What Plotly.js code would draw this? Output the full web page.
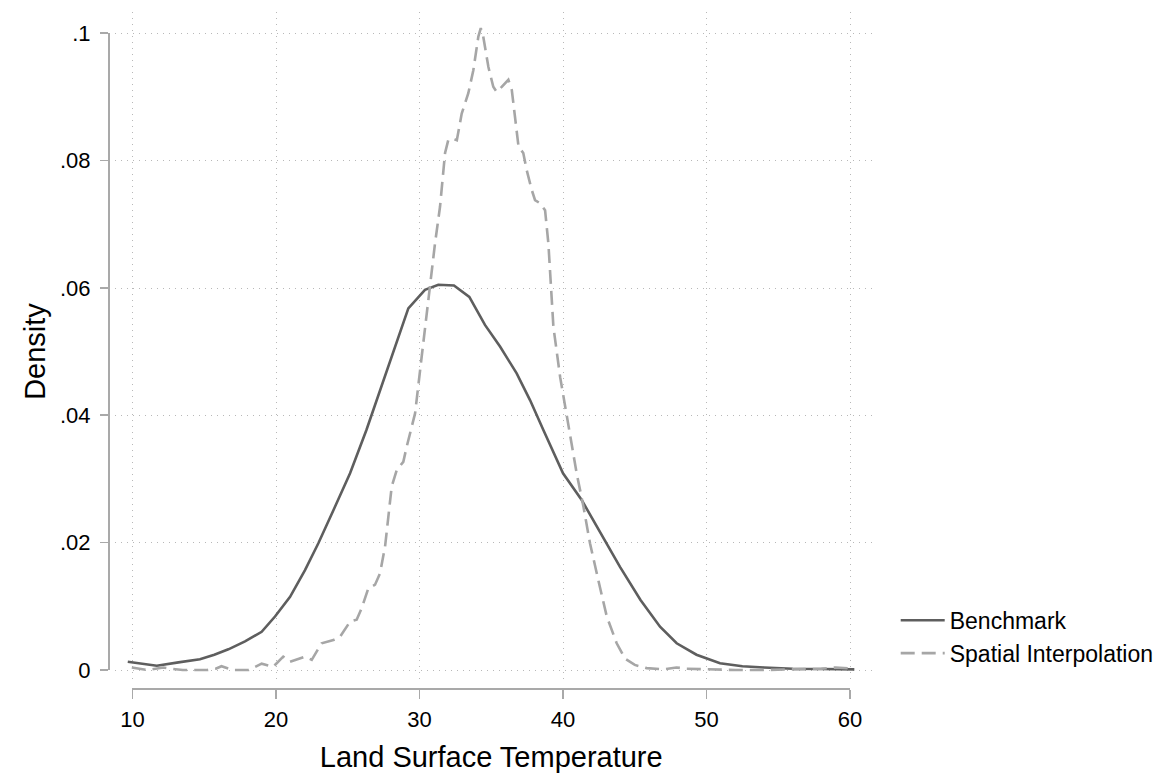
<!DOCTYPE html>
<html>
<head>
<meta charset="utf-8">
<script src="https://cdn.plot.ly/plotly-3.0.1.min.js"></script>
<style>html,body{margin:0;padding:0;background:#fff;}#chart{width:1167px;height:774px;}</style>
</head>
<body>
<div id="chart"></div>
<script>
// Benchmark kernel density
var benchX = [9.67, 11.69, 13.2, 14.7, 15.7, 16.68, 17.84, 19.0, 19.93, 20.98, 22.02, 22.95, 24.0, 25.16, 26.3, 27.25, 28.2, 29.22, 30.38, 31.31, 32.4, 33.47, 34.56, 35.61, 36.77, 37.7, 38.63, 40.0, 41.3, 42.8, 43.97, 45.4, 46.76, 47.92, 49.3, 50.94, 52.5, 54.0, 56.0, 58.0, 60.3];
var benchY = [0.0013, 0.00068, 0.0012, 0.00168, 0.0024, 0.00325, 0.0045, 0.006, 0.0084, 0.0115, 0.0157, 0.0199, 0.0251, 0.0309, 0.0377, 0.044, 0.0502, 0.0568, 0.0597, 0.0605, 0.0604, 0.0586, 0.0542, 0.0508, 0.0466, 0.0424, 0.0377, 0.0309, 0.0267, 0.0209, 0.0162, 0.011, 0.0068, 0.0042, 0.0024, 0.00105, 0.0006, 0.0004, 0.0002, 0.00015, 0.0001];

// Spatial Interpolation kernel density
var spatX = [9.95, 11.0, 11.6, 12.15, 12.7, 13.5, 15.2, 15.8, 16.2, 16.6, 17.0, 18.1, 18.6, 19.0, 19.8, 20.1, 20.5, 20.98, 21.44, 22.02, 22.49, 23.18, 24.0, 24.46, 25.16, 25.62, 25.97, 26.43, 26.9, 27.25, 27.6, 27.83, 28.06, 28.41, 28.87, 29.1, 29.69, 30.15, 30.73, 31.08, 31.43, 31.78, 32.0, 32.25, 32.6, 32.94, 33.4, 33.75, 34.1, 34.27, 34.44, 34.8, 35.14, 35.38, 35.73, 36.19, 36.43, 36.66, 36.9, 37.23, 37.47, 37.82, 38.05, 38.4, 38.75, 38.98, 39.33, 39.8, 40.14, 40.49, 40.95, 41.42, 41.88, 42.46, 43.05, 43.74, 44.32, 45.0, 45.83, 47.0, 47.9, 48.6, 50.0, 52.0, 54.0, 56.0, 58.0, 59.0, 60.3];
var spatY = [0.0004, 0.0, 0.0002, 0.0004, 0.0002, 0.0, 0.0, 0.0002, 0.0006, 0.0003, 0.0, 0.0, 0.0005, 0.001, 0.0005, 0.0012, 0.0021, 0.0013, 0.0016, 0.0021, 0.0016, 0.0042, 0.0047, 0.0052, 0.0076, 0.0079, 0.0097, 0.0128, 0.0134, 0.0152, 0.0194, 0.0241, 0.0288, 0.0314, 0.0327, 0.035, 0.0403, 0.0492, 0.0607, 0.067, 0.0728, 0.0812, 0.0832, 0.0835, 0.0832, 0.0874, 0.0906, 0.0942, 0.0995, 0.1008, 0.0995, 0.0947, 0.0916, 0.0908, 0.0916, 0.0927, 0.0911, 0.0864, 0.0822, 0.0812, 0.0785, 0.0754, 0.0738, 0.0733, 0.0722, 0.067, 0.0539, 0.046, 0.0414, 0.0372, 0.0309, 0.0257, 0.0199, 0.0141, 0.0084, 0.0042, 0.0018, 0.0008, 0.0003, 0.0001, 0.0004, 0.0002, 0.0001, 0.0, 0.0, 0.0001, 0.0002, 0.0004, 0.0002];

var seriesNames = ["Benchmark", "Spatial Interpolation"];
var xTickVals = [10, 20, 30, 40, 50, 60];
var xTickText = ["10", "20", "30", "40", "50", "60"];
var yTickVals = [0, 0.02, 0.04, 0.06, 0.08, 0.1];
var yTickText = ["0", ".02", ".04", ".06", ".08", ".1"];
var xTitle = "Land Surface Temperature";
var yTitle = "Density";

var FONT = "Liberation Sans, Arial, sans-serif";
var axisGrey = "#a9a9a9";
var gridGrey = "#b8b8b8";

var traces = [
  {x: benchX, y: benchY, name: seriesNames[0], type: "scatter", mode: "lines",
   line: {color: "#5e5e5e", width: 2.6}, xaxis: "x", yaxis: "y", hoverinfo: "skip"},
  {x: spatX, y: spatY, name: seriesNames[1], type: "scatter", mode: "lines",
   line: {color: "#a6a6a6", width: 2.6, dash: "14px,7px"}, xaxis: "x", yaxis: "y", hoverinfo: "skip"},
  {x: [null], y: [null], xaxis: "x2", yaxis: "y2", showlegend: false, hoverinfo: "skip", mode: "lines"}
];

var layout = {
  width: 1167, height: 774,
  margin: {l: 108, r: 292, t: 12, b: 86, pad: 0, autoexpand: false},
  paper_bgcolor: "#ffffff", plot_bgcolor: "rgba(0,0,0,0)",
  font: {family: FONT, color: "#000000", size: 22},
  showlegend: true,
  legend: {x: 1.027, xanchor: "left", y: 0.132, yanchor: "top",
           font: {family: FONT, size: 23, color: "#000"}, bgcolor: "rgba(0,0,0,0)",
           tracegroupgap: 0, itemwidth: 44},
  xaxis: {domain: [0.00913, 1], range: [8.78, 61.74], tickvals: xTickVals,
          showticklabels: false, ticks: "", showline: false, zeroline: false,
          showgrid: true, gridcolor: gridGrey, gridwidth: 1, griddash: "1px,5px", fixedrange: true},
  yaxis: {domain: [0.0074, 1], range: [-0.00204, 0.10335], tickvals: yTickVals,
          showticklabels: false, ticks: "", showline: false, zeroline: false,
          showgrid: true, gridcolor: gridGrey, gridwidth: 1, griddash: "1px,5px", fixedrange: true},
  xaxis2: {domain: [0.03194, 0.96741], range: [10, 60], anchor: "free", position: 0,
           tickvals: xTickVals, ticktext: xTickText, ticks: "outside", ticklen: 9, tickwidth: 1.5,
           tickcolor: axisGrey, showline: true, linecolor: axisGrey, linewidth: 1.5,
           showgrid: false, zeroline: false, tickfont: {family: FONT, size: 22, color: "#000"},
           ticklabelstandoff: 2,
           title: {text: xTitle, font: {family: FONT, size: 29, color: "#000"}, standoff: 16},
           fixedrange: true},
  yaxis2: {domain: [0.02663, 0.96893], range: [0, 0.1], anchor: "free", position: 0,
           tickvals: yTickVals, ticktext: yTickText, ticks: "outside", ticklen: 8, tickwidth: 1.5,
           tickcolor: axisGrey, showline: true, linecolor: axisGrey, linewidth: 1.5,
           showgrid: false, zeroline: false, tickfont: {family: FONT, size: 22, color: "#000"},
           ticklabelstandoff: 5,
           title: {text: yTitle, font: {family: FONT, size: 29, color: "#000"}, standoff: 4},
           fixedrange: true}
};

Plotly.newPlot("chart", traces, layout, {displayModeBar: false, staticPlot: true});
</script>
</body>
</html>
